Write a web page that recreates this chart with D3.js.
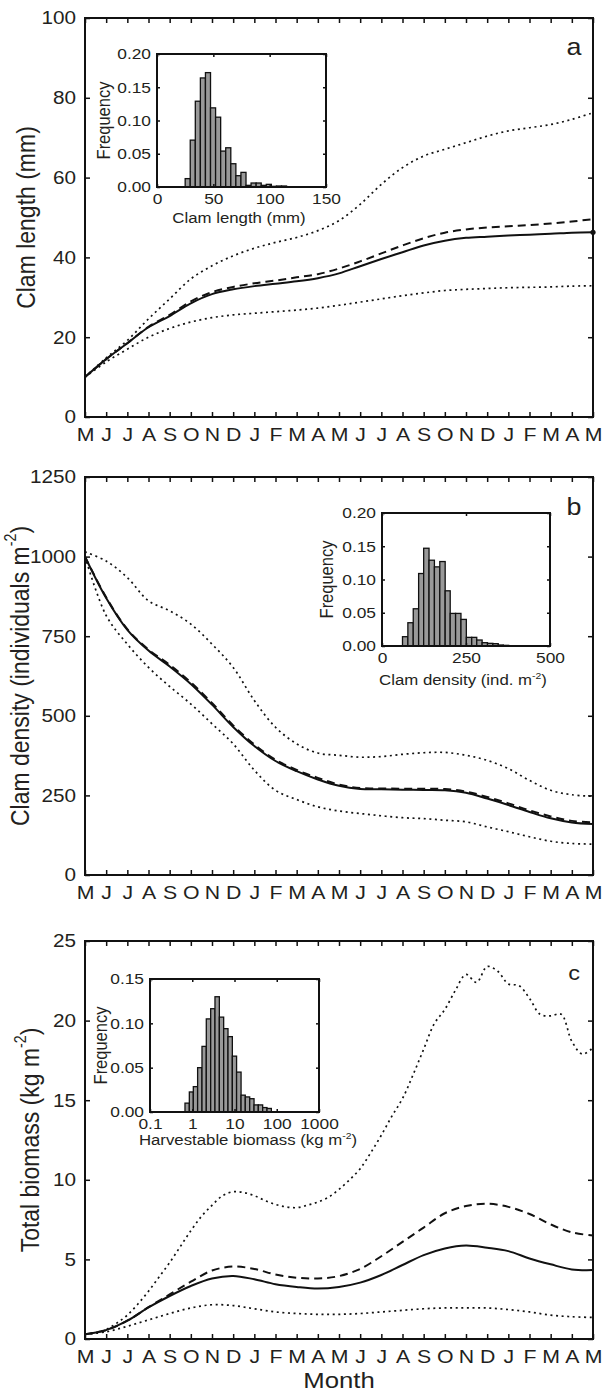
<!DOCTYPE html>
<html><head><meta charset="utf-8">
<script src="https://cdn.jsdelivr.net/npm/d3@7"></script>
<style>
body{margin:0;background:#fff}
svg{display:block}
text{font-family:"Liberation Sans",Arial,Helvetica,sans-serif;fill:#231f20}
</style>
</head><body>
<svg id="chart" width="604" height="1397"></svg>
<script>
// ---------------- DATA ----------------
const monthLabels = ["M","J","J","A","S","O","N","D","J","F","M","A","M","J","J","A","S","O","N","D","J","F","M","A","M"];
const monthIndex = d3.range(0, 25);
const halfMonthIndex = d3.range(0, 24.5, 0.5);

// Panel a: clam length (mm)
const lengthSolid  = [10,14.5,18.5,22.5,25.3,28.5,30.8,32.0,32.8,33.4,34.0,34.8,36.0,37.8,39.6,41.3,43.0,44.2,44.9,45.2,45.5,45.7,45.9,46.2,46.3];
const lengthDashed = [10,14.5,18.5,22.6,25.6,29.0,31.3,32.6,33.5,34.2,35.0,35.8,37.2,39.0,41.0,43.0,44.8,46.2,47.0,47.5,47.8,48.1,48.5,49.0,49.6];
const lengthUpper  = [10,14.8,19.2,24.6,29.6,34.6,37.9,40.4,42.3,43.75,45.0,46.7,49.2,53.3,58.3,62.5,65.4,67.1,68.75,70.4,71.7,72.5,73.3,74.6,76.25];
const lengthLower  = [10,13.8,17.0,20.0,22.2,23.8,24.9,25.6,26.0,26.4,26.8,27.3,28.0,28.8,29.6,30.4,31.1,31.7,32.0,32.2,32.4,32.5,32.6,32.8,32.9];
const lengthTicks = [0,20,40,60,80,100];

// Inset a: clam length histogram
const lengthBinEdges = [25,29.5,34,38.5,43,47.5,52,56.5,61,65.5,70,74.5,79,83.5,88,92.5,97,101.5,106,110.5,115];
const lengthFreq = [0.0126,0.0705,0.129,0.164,0.172,0.119,0.105,0.054,0.059,0.035,0.017,0.022,0.0025,0.006,0.006,0.0025,0.004,0.001,0.0015,0.0015];
const lengthHistXTicks = [0,50,100,150];
const lengthHistYTicks = [0,0.05,0.10,0.15,0.20];

// Panel b: clam density (individuals m-2)
const densitySolid  = [1000,870,770,705,655,600,535,465,405,358,326,300,280,270,269,268,267,266,258,240,220,198,178,165,160];
const densityDashed = [1000,872,772,708,660,605,540,470,410,362,330,305,284,273,272,271,271,270,262,245,225,203,184,170,165];
const densityUpper  = [1015,986,934,861,830,788,725,652,548,464,412,383,376,370,372,379,384,385,376,360,334,297,266,252,247];
const densityLower  = [1000,815,725,652,592,537,475,412,329,266,237,214,201,193,186,180,177,172,167,151,136,120,106,99,97];
const densityTicks = [0,250,500,750,1000,1250];

// Inset b: clam density histogram
const densityBinEdges = [61,77,93,109,124,140,156,172,188,203,219,235,251,267,282,298,314,330,346,361,377];
const densityFreq = [0.014,0.035,0.056,0.109,0.147,0.129,0.119,0.127,0.083,0.049,0.049,0.040,0.013,0.013,0.009,0.005,0.004,0.0035,0.0015,0.001];
const densityHistXTicks = [0,250,500];
const densityHistYTicks = [0,0.05,0.10,0.15,0.20];

// Panel c: total biomass (kg m-2)
const biomassSolid  = [0.3,0.56,1.15,1.98,2.7,3.33,3.8,3.96,3.75,3.44,3.27,3.17,3.27,3.54,4.02,4.65,5.27,5.69,5.87,5.73,5.52,5.06,4.69,4.37,4.33];
const biomassDashed = [0.3,0.56,1.15,2.0,2.8,3.6,4.3,4.55,4.4,4.05,3.85,3.8,3.95,4.4,5.2,6.1,7.0,7.9,8.35,8.5,8.3,7.85,7.2,6.7,6.5];
const biomassLower  = [0.3,0.45,0.8,1.2,1.6,1.95,2.15,2.1,1.9,1.7,1.6,1.55,1.55,1.6,1.7,1.8,1.9,1.95,1.95,1.95,1.85,1.7,1.5,1.4,1.35];
// upper dotted line read at half-month resolution (it is jagged)
const biomassUpper  = [0.3,0.4,0.6,1.0,1.5,2.2,3.0,3.9,4.8,5.8,6.8,7.7,8.4,9.0,9.25,9.2,9.0,8.7,8.45,8.3,8.25,8.4,8.6,8.9,9.4,10.0,10.7,11.7,12.8,14.0,15.1,16.6,18.2,19.8,20.7,21.9,22.9,22.4,23.4,23.1,22.3,22.2,21.4,20.4,20.3,20.4,18.7,17.9,18.3];
const biomassTicks = [0,5,10,15,20,25];

// Inset c: harvestable biomass histogram (log x)
const biomassBinEdges = [0.673,0.853,1.06,1.34,1.70,2.15,2.73,3.45,4.38,5.54,7.02,8.89,11.2,14.3,18.0,22.9,29.0,36.6,46.4,58.8,74.5];
const biomassFreq = [0.010,0.0226,0.0286,0.050,0.074,0.105,0.1165,0.130,0.107,0.094,0.085,0.063,0.045,0.019,0.017,0.015,0.008,0.008,0.005,0.004];
const biomassHistXTicks = [0.1,1,10,100,1000];
const biomassHistYTicks = [0,0.05,0.10,0.15];

// ---------------- DRAWING ----------------
const svg = d3.select("#chart");
const SX = 1.12;           // horizontal stretch of the lettering in the original
const INK = "#111";
const L = 85, R = 593;

function txt(g, x, y, size, anchor, rot) {
  return g.append("text")
    .attr("transform", `translate(${x},${y}) scale(${SX},1)` + (rot ? ` rotate(${rot})` : ""))
    .attr("text-anchor", anchor || "middle")
    .style("font-size", size + "px");
}
function sup(t, base, s, size) {
  t.append("tspan").text(base);
  t.append("tspan").attr("dy", -size * 0.42).style("font-size", (size * 0.62) + "px").text(s);
  t.append("tspan").attr("dy", size * 0.42).text(")");
}
function styleAxis(a, size) {
  a.select(".domain").remove();
  a.selectAll(".tick line").attr("stroke", INK).attr("stroke-width", 1.5);
  a.selectAll(".tick text").style("font-size", size + "px")
    .attr("font-family", null).attr("fill", "#231f20")
    .attr("transform", `scale(${SX},1)`);
}

function panel(cfg) {
  const g = svg.append("g");
  const x = d3.scaleLinear().domain([0, 24]).range([L, R]);
  const y = d3.scaleLinear().domain([0, cfg.ymax]).range([cfg.bottom, cfg.top]);

  const ab = g.append("g").attr("transform", `translate(0,${cfg.bottom})`)
    .call(d3.axisBottom(x).tickValues(monthIndex).tickSize(-5).tickPadding(10)
      .tickFormat(i => monthLabels[i]));
  styleAxis(ab, 19);
  ab.selectAll(".tick text").attr("dy", "0.72em");
  const at = g.append("g").attr("transform", `translate(0,${cfg.top})`)
    .call(d3.axisTop(x).tickValues(monthIndex).tickSize(-5).tickFormat(""));
  styleAxis(at, 10);
  const al = g.append("g").attr("transform", `translate(${L},0)`)
    .call(d3.axisLeft(y).tickValues(cfg.ticks).tickSize(-5).tickPadding(9).tickFormat(d3.format("d")));
  styleAxis(al, 18.5);
  al.selectAll(".tick text").attr("x", -9 / SX);
  const ar = g.append("g").attr("transform", `translate(${R},0)`)
    .call(d3.axisRight(y).tickValues(cfg.ticks).tickSize(-5).tickFormat(""));
  styleAxis(ar, 10);

  g.append("rect").attr("x", L).attr("y", cfg.top).attr("width", R - L).attr("height", cfg.bottom - cfg.top)
    .attr("fill", "none").attr("stroke", INK).attr("stroke-width", 2);

  const clip = "clip" + cfg.letter;
  g.append("clipPath").attr("id", clip).append("rect")
    .attr("x", L).attr("y", cfg.top).attr("width", R - L).attr("height", cfg.bottom - cfg.top);
  const lg = g.append("g").attr("clip-path", `url(#${clip})`);
  cfg.series.forEach(s => {
    const xs = s.xs || monthIndex;
    const line = d3.line().x((d, i) => x(xs[i])).y(d => y(d)).curve(d3.curveCatmullRom.alpha(0.5));
    const p = lg.append("path").datum(s.values).attr("d", line)
      .attr("fill", "none").attr("stroke", INK);
    if (s.style === "solid") p.attr("stroke-width", 2);
    if (s.style === "dashed") p.attr("stroke-width", 2).attr("stroke-dasharray", "8,5");
    if (s.style === "dotted") p.attr("stroke-width", 1.7).attr("stroke-dasharray", "2,3.6");
  });
  if (cfg.endDot) {
    const s = cfg.series[0];
    g.append("circle").attr("cx", x(24)).attr("cy", y(s.values[24])).attr("r", 2.6).attr("fill", INK);
  }

  const t = txt(g, cfg.titleX, (cfg.top + cfg.bottom) / 2, 23, "middle", -90).attr("dominant-baseline", "central");
  if (cfg.titleSup) sup(t, cfg.title, cfg.titleSup, 23); else t.text(cfg.title);

  txt(g, 574, cfg.letterY, cfg.letterSize, "middle").text(cfg.letter);
  return g;
}

function inset(cfg) {
  const g = svg.append("g");
  const x = (cfg.log ? d3.scaleLog() : d3.scaleLinear()).domain(cfg.xdom).range([cfg.x0, cfg.x1]);
  const y = d3.scaleLinear().domain([0, cfg.ymax]).range([cfg.y1, cfg.y0]);

  g.selectAll("rect.bar").data(cfg.freq).join("rect").attr("class", "bar")
    .attr("x", (d, i) => x(cfg.edges[i]))
    .attr("width", (d, i) => x(cfg.edges[i + 1]) - x(cfg.edges[i]))
    .attr("y", d => y(d)).attr("height", d => y(0) - y(d))
    .attr("fill", "#999").attr("stroke", INK).attr("stroke-width", 1.3);

  const fmtX = cfg.log ? (d => String(d)) : d3.format("d");
  const ab = g.append("g").attr("transform", `translate(0,${cfg.y1})`)
    .call(d3.axisBottom(x).tickValues(cfg.xticks).tickSize(-3).tickPadding(6).tickFormat(fmtX));
  styleAxis(ab, 15.5);
  ab.selectAll(".tick text").attr("dy", "0.72em");
  const at = g.append("g").attr("transform", `translate(0,${cfg.y0})`)
    .call(d3.axisTop(x).tickValues(cfg.xticks).tickSize(-3).tickFormat(""));
  styleAxis(at, 10);
  const al = g.append("g").attr("transform", `translate(${cfg.x0},0)`)
    .call(d3.axisLeft(y).tickValues(cfg.yticks).tickSize(-3).tickPadding(6).tickFormat(d3.format(".2f")));
  styleAxis(al, 15.5);
  al.selectAll(".tick text").attr("x", -6 / SX);
  const ar = g.append("g").attr("transform", `translate(${cfg.x1},0)`)
    .call(d3.axisRight(y).tickValues(cfg.yticks).tickSize(-3).tickFormat(""));
  styleAxis(ar, 10);

  g.append("rect").attr("x", cfg.x0).attr("y", cfg.y0).attr("width", cfg.x1 - cfg.x0).attr("height", cfg.y1 - cfg.y0)
    .attr("fill", "none").attr("stroke", INK).attr("stroke-width", 2);

  const t = txt(g, cfg.titleCX, cfg.titleY, 15, "middle");
  if (cfg.titleSup) sup(t, cfg.title, cfg.titleSup, 15); else t.text(cfg.title);
  txt(g, cfg.freqX, (cfg.y0 + cfg.y1) / 2, 16.5, "middle", -90).attr("dominant-baseline", "central").text("Frequency");
}

// Panel a
panel({
  letter: "a", letterY: 55, letterSize: 24, top: 18, bottom: 417, ymax: 100, ticks: lengthTicks,
  title: "Clam length (mm)", titleX: 26, endDot: true,
  series: [
    {values: lengthSolid, style: "solid"},
    {values: lengthDashed, style: "dashed"},
    {values: lengthUpper, style: "dotted"},
    {values: lengthLower, style: "dotted"}
  ]
});
inset({
  x0: 157, x1: 326, y0: 54, y1: 187, xdom: [0, 150], ymax: 0.20,
  edges: lengthBinEdges, freq: lengthFreq, xticks: lengthHistXTicks, yticks: lengthHistYTicks,
  title: "Clam length (mm)", titleCX: 239, titleY: 223, freqX: 104
});

// Panel b
panel({
  letter: "b", letterY: 515, letterSize: 24, top: 477, bottom: 875, ymax: 1250, ticks: densityTicks,
  title: "Clam density (individuals m", titleSup: "-2", titleX: 20,
  series: [
    {values: densitySolid, style: "solid"},
    {values: densityDashed, style: "dashed"},
    {values: densityUpper, style: "dotted"},
    {values: densityLower, style: "dotted"}
  ]
});
inset({
  x0: 382, x1: 550, y0: 513, y1: 646, xdom: [0, 500], ymax: 0.20,
  edges: densityBinEdges, freq: densityFreq, xticks: densityHistXTicks, yticks: densityHistYTicks,
  title: "Clam density (ind. m", titleSup: "-2", titleCX: 463, titleY: 685, freqX: 327
});

// Panel c
panel({
  letter: "c", letterY: 980, letterSize: 21, top: 941, bottom: 1339, ymax: 25, ticks: biomassTicks,
  title: "Total biomass (kg m", titleSup: "-2", titleX: 30,
  series: [
    {values: biomassSolid, style: "solid"},
    {values: biomassDashed, style: "dashed"},
    {values: biomassUpper, style: "dotted", xs: halfMonthIndex},
    {values: biomassLower, style: "dotted"}
  ]
});
inset({
  x0: 150, x1: 319, y0: 979, y1: 1112, xdom: [0.1, 1000], ymax: 0.15, log: true,
  edges: biomassBinEdges, freq: biomassFreq, xticks: biomassHistXTicks, yticks: biomassHistYTicks,
  title: "Harvestable biomass (kg m", titleSup: "-2", titleCX: 248, titleY: 1145, freqX: 101
});

txt(svg, (L + R) / 2, 1388, 23, "middle").text("Month");
</script>
</body></html>
